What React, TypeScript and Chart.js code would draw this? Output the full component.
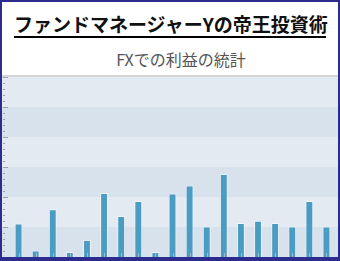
import React, { useEffect, useRef } from "react";
import { Chart, registerables } from "chart.js";

Chart.register(...registerables);

const TITLE = "ファンドマネージャーYの帝王投資術";
const SUBTITLE = "FXでの利益の統計";
const categories = [
  "1", "2", "3", "4", "5", "6", "7", "8", "9", "10",
  "11", "12", "13", "14", "15", "16", "17", "18", "19",
];
const profits = [
  11.2, 2.2, 15.9, 1.7, 5.7, 21.3, 13.7, 18.7, 1.7, 21.2,
  23.8, 10.2, 27.7, 11.3, 12.1, 11.3, 10.2, 18.7, 10.2,
];
const yMin = 0;
const yMax = 60;
const yMajorStep = 10;
const yMinorStep = 2;

const bandsPlugin = {
  id: "bands",
  beforeDraw(chart: any) {
    const { ctx, chartArea, scales } = chart;
    const y = scales.y;
    const x0 = 0;
    const x1 = chart.width;
    ctx.save();
    let idx = 0;
    for (let v = yMax; v > yMin; v -= yMajorStep) {
      const top = y.getPixelForValue(v);
      const bot = y.getPixelForValue(v - yMajorStep);
      ctx.fillStyle = idx % 2 === 0 ? "#e3eaf2" : "#d7e2ec";
      ctx.fillRect(x0, top, x1 - x0, bot - top);
      idx++;
    }
    ctx.fillStyle = "#d6d6d6";
    ctx.fillRect(x0, chartArea.top - 2, x1 - x0, 2);
    ctx.strokeStyle = "#9aa3ad";
    ctx.lineWidth = 1;
    for (let v = yMin; v <= yMax; v += yMinorStep) {
      const py = Math.round(y.getPixelForValue(v)) + 0.5;
      const major = v % yMajorStep === 0;
      ctx.beginPath();
      ctx.moveTo(1, py);
      ctx.lineTo(major ? 6 : 3, py);
      ctx.stroke();
    }
    ctx.restore();
  },
  afterDatasetsDraw(chart: any) {
    const { ctx, chartArea, scales } = chart;
    const x = scales.x;
    ctx.save();
    ctx.strokeStyle = "rgba(190,200,210,0.7)";
    ctx.lineWidth = 1;
    categories.forEach((_, i) => {
      const px = Math.round(x.getPixelForValue(i)) + 0.5;
      ctx.beginPath();
      ctx.moveTo(px, chartArea.bottom - 4);
      ctx.lineTo(px, chartArea.bottom);
      ctx.stroke();
    });
    ctx.restore();
  },
};

function ProfitChart() {
  const ref = useRef<HTMLCanvasElement>(null);
  useEffect(() => {
    if (!ref.current) return;
    const chart = new Chart(ref.current, {
      type: "bar",
      data: {
        labels: categories,
        datasets: [
          {
            data: profits,
            backgroundColor: "#4b9cc2",
            borderColor: "rgba(255,255,255,0.55)",
            borderWidth: 1,
            categoryPercentage: 1,
            barPercentage: 0.46,
          },
        ],
      },
      options: {
        animation: false,
        responsive: false,
        maintainAspectRatio: false,
        layout: { padding: { left: 8, right: 3, top: 2, bottom: 0 } },
        plugins: {
          legend: { display: false },
          tooltip: { enabled: false },
          title: { display: false },
        },
        scales: {
          x: { display: false },
          y: { display: false, min: yMin, max: yMax },
        },
      },
      plugins: [bandsPlugin],
    });
    return () => chart.destroy();
  }, []);
  return (
    <canvas
      ref={ref}
      width={336}
      height={182}
      style={{ position: "absolute", left: 0, top: 73, width: 336, height: 182 }}
    />
  );
}

export default function App() {
  useEffect(() => {
    document.body.style.margin = "0";
  }, []);
  return (
    <div
      style={{
        position: "fixed",
        left: 0,
        top: 0,
        width: 340,
        height: 261,
        boxSizing: "border-box",
        borderStyle: "solid",
        borderColor: "#2c2c8e",
        borderWidth: "2px 2px 4px 2px",
        background: "#ffffff",
        overflow: "hidden",
      }}
    >
      <div
        style={{
          position: "absolute",
          left: 12,
          top: 10,
          width: 312,
          textAlign: "center",
          fontFamily: "'Noto Sans CJK JP', sans-serif",
          fontWeight: 700,
          fontSize: 19,
          lineHeight: "24px",
          color: "#111",
          borderBottom: "2px solid #000",
          paddingBottom: 0,
          whiteSpace: "nowrap",
        }}
      >
        {TITLE}
      </div>
      <div
        style={{
          position: "absolute",
          left: 11,
          top: 47,
          width: 336,
          textAlign: "center",
          fontFamily: "'Noto Sans CJK JP', sans-serif",
          fontSize: 16,
          lineHeight: "20px",
          color: "#555",
          whiteSpace: "nowrap",
        }}
      >
        {SUBTITLE}
      </div>
      <ProfitChart />
    </div>
  );
}
